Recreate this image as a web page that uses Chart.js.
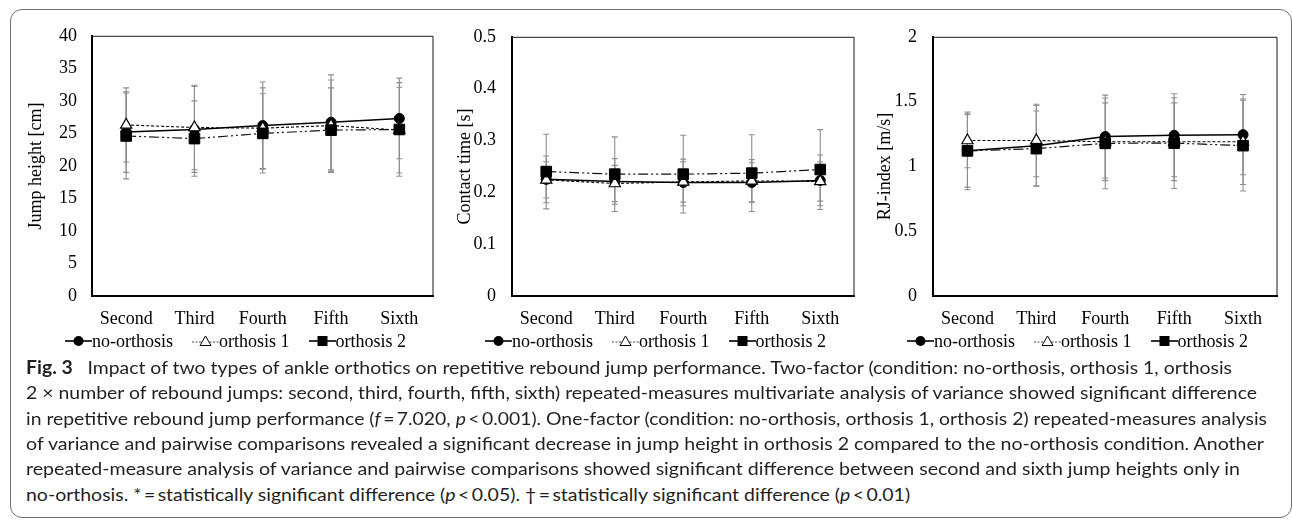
<!DOCTYPE html>
<html>
<head>
<meta charset="utf-8">
<script src="https://cdn.jsdelivr.net/npm/chart.js@4.4.1/dist/chart.umd.min.js"></script>
<style>
  html, body { margin: 0; padding: 0; background: #fff; }
  body { width: 1292px; height: 525px; overflow: hidden; position: relative; }
  #frame { position: absolute; left: 10px; top: 9px; width: 1282px; height: 509px; border: 1.5px solid #707070; border-radius: 12px; box-sizing: border-box; }
  canvas { position: absolute; }
  .legend { position: absolute; top: 330px; height: 22px; display: flex; align-items: center; font-family: "Liberation Serif", serif; font-size: 18px; color: #000; white-space: nowrap; }
  .legend svg { display: block; }
  .legend .txt { margin-right: 19px; }
  .cap { position: absolute; left: 26px; font-family: Lato, sans-serif; font-size: 18px; line-height: 24px; color: #231f20; white-space: nowrap; transform-origin: 0 50%; }
  .cap b { font-weight: 700; margin-right: 9px; }
</style>
</head>
<body>
<div id="frame"></div>
<canvas id="c1" width="422" height="325" style="left:20px;top:10px;"></canvas>
<canvas id="c2" width="416" height="325" style="left:447px;top:10px;"></canvas>
<canvas id="c3" width="415" height="325" style="left:871px;top:10px;"></canvas>
<div id="legends"></div>
<div id="caption"></div>
<script>
// ---------- data ----------
const categories = ['Second', 'Third', 'Fourth', 'Fifth', 'Sixth'];
const seriesNames = ['no-orthosis', 'orthosis 1', 'orthosis 2'];

// Jump height [cm]
const jumpNoOrthosis = [25.2, 25.6, 26.2, 26.7, 27.3];
const jumpOrthosis1 = [26.3, 25.9, 25.8, 26.2, 25.5];
const jumpOrthosis2 = [24.6, 24.2, 25.0, 25.5, 25.6];
const jumpSdNoOrthosis = [6.2, 6.6, 6.7, 7.3, 6.2];
const jumpSdOrthosis1 = [5.7, 6.5, 6.2, 7.0, 6.6];
const jumpSdOrthosis2 = [6.6, 5.8, 6.1, 6.5, 7.2];
const jumpTicks = [0, 5, 10, 15, 20, 25, 30, 35, 40];
const jumpTickLabels = ['0', '5', '10', '15', '20', '25', '30', '35', '40'];

// Contact time [s]
const contactNoOrthosis = [0.225, 0.221, 0.219, 0.219, 0.223];
const contactOrthosis1 = [0.224, 0.217, 0.220, 0.222, 0.221];
const contactOrthosis2 = [0.240, 0.235, 0.235, 0.237, 0.244];
const contactSdNoOrthosis = [0.045, 0.044, 0.045, 0.038, 0.049];
const contactSdOrthosis1 = [0.035, 0.035, 0.039, 0.041, 0.038];
const contactSdOrthosis2 = [0.072, 0.072, 0.075, 0.074, 0.077];
const contactTicks = [0, 0.1, 0.2, 0.3, 0.4, 0.5];
const contactTickLabels = ['0', '0.1', '0.2', '0.3', '0.4', '0.5'];

// RJ-index [m/s]
const rjNoOrthosis = [1.12, 1.16, 1.23, 1.24, 1.245];
const rjOrthosis1 = [1.20, 1.20, 1.19, 1.19, 1.19];
const rjOrthosis2 = [1.12, 1.137, 1.178, 1.18, 1.16];
const rjSdNoOrthosis = [0.28, 0.31, 0.32, 0.32, 0.31];
const rjSdOrthosis1 = [0.21, 0.28, 0.30, 0.30, 0.33];
const rjSdOrthosis2 = [0.30, 0.29, 0.35, 0.35, 0.35];
const rjTicks = [0, 0.5, 1, 1.5, 2];
const rjTickLabels = ['0', '0.5', '1', '1.5', '2'];

const captionLines = [
  'Impact of two types of ankle orthotics on repetitive rebound jump performance. Two-factor (condition: no-orthosis, orthosis 1, orthosis',
  '2 × number of rebound jumps: second, third, fourth, fifth, sixth) repeated-measures multivariate analysis of variance showed significant difference',
  'in repetitive rebound jump performance (<i>f</i>&#8201;=&#8201;7.020, <i>p</i>&#8201;&lt;&#8201;0.001). One-factor (condition: no-orthosis, orthosis 1, orthosis 2) repeated-measures analysis',
  'of variance and pairwise comparisons revealed a significant decrease in jump height in orthosis 2 compared to the no-orthosis condition. Another',
  'repeated-measure analysis of variance and pairwise comparisons showed significant difference between second and sixth jump heights only in',
  'no-orthosis. *&#8201;=&#8201;statistically significant difference (<i>p</i>&#8201;&lt;&#8201;0.05). †&#8201;=&#8201;statistically significant difference (<i>p</i>&#8201;&lt;&#8201;0.01)'
];

// ---------- plugins ----------
const errorBarPlugin = {
  id: 'errorBars',
  beforeDatasetsDraw(chart) {
    const ctx = chart.ctx;
    const yScale = chart.scales.y;
    ctx.save();
    ctx.strokeStyle = '#8e8e8e';
    ctx.lineWidth = 1.1;
    chart.data.datasets.forEach((ds, di) => {
      const meta = chart.getDatasetMeta(di);
      ds.errors.forEach((e, i) => {
        const pt = meta.data[i];
        const x = pt.x;
        const yTop = yScale.getPixelForValue(ds.data[i] + e);
        const yBot = yScale.getPixelForValue(ds.data[i] - e);
        ctx.beginPath();
        ctx.moveTo(x, yTop); ctx.lineTo(x, yBot);
        ctx.moveTo(x - 3, yTop); ctx.lineTo(x + 3, yTop);
        ctx.moveTo(x - 3, yBot); ctx.lineTo(x + 3, yBot);
        ctx.stroke();
      });
    });
    ctx.restore();
  }
};

const framePlugin = {
  id: 'plotFrame',
  beforeDatasetsDraw(chart) {
    const a = chart.chartArea;
    const ctx = chart.ctx;
    ctx.save();
    ctx.strokeStyle = '#1a1a1a';
    ctx.lineWidth = 1;
    ctx.beginPath();
    ctx.moveTo(a.left, a.top + 0.5);
    ctx.lineTo(a.right - 0.5, a.top + 0.5);
    ctx.lineTo(a.right - 0.5, a.bottom);
    ctx.stroke();
    ctx.restore();
  }
};

function makeChart(id, cfg) {
  const font = { family: 'Liberation Serif', size: 18 };
  const ds = (label, data, errors, style) => Object.assign({ label, data, errors }, style);
  const styles = [
    { borderColor: '#000', borderWidth: 1.5, pointStyle: 'circle', pointRadius: 5, pointBackgroundColor: '#000', pointBorderColor: '#000', pointBorderWidth: 1, order: 3 },
    { borderColor: '#000', borderWidth: 1.1, borderDash: [3, 2], pointStyle: 'triangle', pointRadius: 6.5, pointBackgroundColor: '#fff', pointBorderColor: '#000', pointBorderWidth: 1.2, order: 2 },
    { borderColor: '#111', borderWidth: 1.2, borderDash: [10, 3, 2, 3, 2, 3], pointStyle: 'rect', pointRadius: 7.5, pointBackgroundColor: '#000', pointBorderColor: '#000', pointBorderWidth: 1, order: 1 }
  ];
  return new Chart(document.getElementById(id), {
    type: 'line',
    data: {
      labels: categories,
      datasets: [
        ds(seriesNames[0], cfg.values[0], cfg.errors[0], styles[0]),
        ds(seriesNames[1], cfg.values[1], cfg.errors[1], styles[1]),
        ds(seriesNames[2], cfg.values[2], cfg.errors[2], styles[2])
      ]
    },
    options: {
      responsive: false,
      devicePixelRatio: 1,
      animation: false,
      tension: 0,
      layout: { padding: { top: 24, right: cfg.padRight, left: 0, bottom: 0 } },
      plugins: { legend: { display: false }, tooltip: { enabled: false } },
      scales: {
        x: {
          offset: true,
          grid: { display: false, drawTicks: false },
          border: { display: true, color: '#000', width: 2 },
          ticks: { color: '#000', font, padding: 12, maxRotation: 0, autoSkip: false },
          afterFit(s) { s.height = 39; }
        },
        y: {
          min: cfg.ticks[0],
          max: cfg.ticks[cfg.ticks.length - 1],
          grid: { display: false, drawTicks: false },
          border: { display: true, color: '#000', width: 2 },
          afterBuildTicks(s) { s.ticks = cfg.ticks.map(v => ({ value: v })); },
          ticks: { color: '#000', font, padding: cfg.tickPad, callback: (v, i) => cfg.tickLabels[i] },
          title: { display: true, text: cfg.title, color: '#000', font, padding: { top: cfg.titlePad, bottom: 0 } },
          afterFit(s) { s.width = cfg.yWidth; }
        }
      }
    },
    plugins: [framePlugin, errorBarPlugin]
  });
}

makeChart('c1', {
  values: [jumpNoOrthosis, jumpOrthosis1, jumpOrthosis2],
  errors: [jumpSdNoOrthosis, jumpSdOrthosis1, jumpSdOrthosis2],
  ticks: jumpTicks, tickLabels: jumpTickLabels,
  title: 'Jump height [cm]', titlePad: 5.2, yWidth: 72, tickPad: 15, padRight: 4
});
makeChart('c2', {
  values: [contactNoOrthosis, contactOrthosis1, contactOrthosis2],
  errors: [contactSdNoOrthosis, contactSdOrthosis1, contactSdOrthosis2],
  ticks: contactTicks, tickLabels: contactTickLabels,
  title: 'Contact time [s]', titlePad: 7.2, yWidth: 65, tickPad: 16, padRight: 4
});
makeChart('c3', {
  values: [rjNoOrthosis, rjOrthosis1, rjOrthosis2],
  errors: [rjSdNoOrthosis, rjSdOrthosis1, rjSdOrthosis2],
  ticks: rjTicks, tickLabels: rjTickLabels,
  title: 'RJ-index [m/s]', titlePad: 3.2, yWidth: 62, tickPad: 16, padRight: 6
});

// ---------- legends ----------
const samples = [
  '<svg width="27" height="14"><line x1="0" y1="7" x2="27" y2="7" stroke="#000" stroke-width="1.6"/><circle cx="13.5" cy="7" r="5" fill="#000"/></svg>',
  '<svg width="27" height="14"><line x1="0" y1="8" x2="27" y2="8" stroke="#444" stroke-width="1" stroke-dasharray="2,1.5"/><polygon points="13.5,2 19,11.5 8,11.5" fill="#fff" stroke="#000" stroke-width="1"/></svg>',
  '<svg width="27" height="14"><line x1="0" y1="7" x2="27" y2="7" stroke="#000" stroke-width="1.6"/><rect x="8.5" y="2" width="10" height="10" fill="#000"/></svg>'
];
const legendLefts = [65, 485, 907];
const legendsDiv = document.getElementById('legends');
legendLefts.forEach(left => {
  const d = document.createElement('div');
  d.className = 'legend';
  d.style.left = left + 'px';
  d.innerHTML = seriesNames.map((n, i) => samples[i] + '<span class="txt">' + n + '</span>').join('');
  legendsDiv.appendChild(d);
});

// ---------- caption ----------
const capDiv = document.getElementById('caption');
const capRight = [1232, 1257, 1267, 1264, 1240, null];
const lineEls = captionLines.map((t, i) => {
  const el = document.createElement('div');
  el.className = 'cap';
  el.style.top = (355 + i * 25.3) + 'px';
  el.innerHTML = (i === 0 ? '<b>Fig. 3</b> ' : '') + t;
  capDiv.appendChild(el);
  return el;
});
let scales = [];
lineEls.forEach((el, i) => {
  if (capRight[i] !== null) {
    const w = el.getBoundingClientRect().width;
    const s = (capRight[i] - 26) / w;
    scales.push(s);
    el.style.transform = 'scaleX(' + s + ')';
  }
});
const meanS = scales.reduce((a, b) => a + b, 0) / scales.length;
lineEls[5].style.transform = 'scaleX(' + meanS + ')';
</script>
</body>
</html>
